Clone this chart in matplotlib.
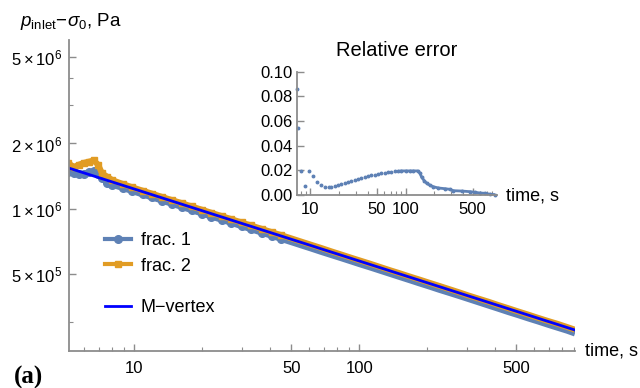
import numpy as np
import matplotlib.pyplot as plt
from matplotlib.lines import Line2D
from matplotlib.ticker import FixedLocator, FixedFormatter, NullFormatter

# fonts: Arial-like text, italic symbols in the axis label
plt.rcParams['font.family'] = ['Liberation Sans', 'DejaVu Sans']
plt.rcParams['mathtext.fontset'] = 'custom'
plt.rcParams['mathtext.rm'] = 'Liberation Sans'
plt.rcParams['mathtext.it'] = 'Liberation Sans:italic'
plt.rcParams['mathtext.bf'] = 'Liberation Sans:bold'

# inlet pressure minus sigma_0 (Pa) against time (s)
t_frac = [5.1, 5.4, 5.7, 6.0, 6.3, 6.6, 6.9, 7.2, 7.6, 8.0, 8.9, 9.8, 10.9, 12, 13.3,
          14.7, 16.3, 18, 20, 22, 24.5, 27, 30, 33, 37, 41, 45, 50, 55, 61, 68, 75,
          83, 92, 100, 112, 124, 137, 150, 168, 185, 205, 227, 250, 278, 307, 340,
          375, 415, 460, 510, 565, 625, 690, 760, 840, 910]
p_frac1 = [1.48e6, 1.46e6, 1.45e6, 1.45e6, 1.47e6, 1.49e6, 1.45e6, 1.38e6, 1.32e6,
           1.29e6, 1.246e6, 1.206e6, 1.164e6, 1.128e6, 1.090e6, 1.054e6, 1.019e6,
           9.85e5, 9.51e5, 9.21e5, 8.89e5, 8.61e5, 8.31e5, 8.05e5, 7.75e5, 7.49e5,
           7.26e5, 7.01e5, 6.79e5, 6.56e5, 6.32e5, 6.12e5, 5.92e5, 5.72e5, 5.56e5,
           5.36e5, 5.18e5, 5.01e5, 4.86e5, 4.68e5, 4.53e5, 4.38e5, 4.23e5, 4.10e5,
           3.96e5, 3.83e5, 3.70e5, 3.58e5, 3.46e5, 3.34e5, 3.23e5, 3.12e5, 3.02e5,
           2.92e5, 2.83e5, 2.74e5, 2.66e5]
p_frac2 = [1.62e6, 1.56e6, 1.60e6, 1.63e6, 1.65e6, 1.67e6, 1.60e6, 1.455e6, 1.404e6,
           1.355e6, 1.301e6, 1.256e6, 1.212e6, 1.174e6, 1.134e6, 1.097e6, 1.061e6,
           1.025e6, 9.90e5, 9.59e5, 9.25e5, 8.96e5, 8.65e5, 8.38e5, 8.07e5, 7.79e5,
           7.56e5, 7.30e5, 7.07e5, 6.83e5, 6.59e5, 6.37e5, 6.16e5, 5.95e5, 5.79e5,
           5.58e5, 5.39e5, 5.21e5, 5.06e5, 4.87e5, 4.72e5, 4.56e5, 4.41e5, 4.27e5,
           4.12e5, 3.98e5, 3.85e5, 3.73e5, 3.60e5, 3.48e5, 3.36e5, 3.25e5, 3.14e5,
           3.04e5, 2.95e5, 2.85e5, 2.77e5]
t_mv = [5.13, 910]
p_mv = [1.54e6, 2.76e5]

# relative error between the two fractures
t_err = [7.27, 7.44, 8.0, 8.8, 9.69, 10.67, 11.75, 12.94, 14.24, 15.68, 16.7, 18.38,
         19.62, 21.23, 23.05, 24.95, 27.0, 29.3, 31.7, 34.4, 37.3, 40.4, 43.7, 47.4,
         51.4, 55.6, 60.3, 65.3, 70.7, 76.7, 83.1, 90, 100, 110, 120, 133.5, 141,
         146.8, 156.3, 165.6, 179.4, 194.2, 219, 257.5, 290.4, 314, 384.6, 469.6,
         529.6, 597.5, 674, 760, 857]
err = [0.086, 0.0546, 0.0195, 0.0075, 0.0195, 0.0154, 0.0108, 0.0079, 0.0065, 0.0065,
       0.0065, 0.0075, 0.0081, 0.0089, 0.0097, 0.0105, 0.0114, 0.0122, 0.013, 0.0138,
       0.0146, 0.0154, 0.016, 0.0165, 0.017, 0.0176, 0.0181, 0.0184, 0.0189, 0.0192,
       0.0192, 0.0195, 0.0195, 0.0195, 0.0195, 0.0195, 0.0176, 0.0144, 0.0116, 0.0095,
       0.0079, 0.0067, 0.0057, 0.0051, 0.0046, 0.0035, 0.0032, 0.0027, 0.0022, 0.0016,
       0.0014, 0.0006, 0.0003]

c1 = '#5E81B5'
c2 = '#E19C24'
axis_grey = '#8c8c8c'

fig = plt.figure(figsize=(6.4, 3.88), dpi=100)
ax = fig.add_axes([0.1078, 0.0954, 0.7906, 0.8015])

# dense samples merge into a band later on, so markers only where they stand apart
early = list(range(27))
ax.plot(t_frac, p_frac1, color=c1, lw=4.3, marker='o', ms=5.5, markevery=early,
        solid_capstyle='butt')
ax.plot(t_frac, p_frac2, color=c2, lw=4.3, marker='s', ms=5, markevery=early,
        solid_capstyle='butt')
ax.plot(t_mv, p_mv, color='#0000ff', lw=2)

h1 = Line2D([], [], color=c1, lw=3, marker='o', ms=5.5, label='frac. 1')
h2 = Line2D([], [], color=c2, lw=3, marker='s', ms=5, label='frac. 2')
h3 = Line2D([], [], color='#0000ff', lw=2, label='M\u2212vertex')

ax.set_xscale('log')
ax.set_yscale('log')
ax.set_xlim(5.13, 910)
ax.set_ylim(2.21e5, 6.0e6)


def style_axes(a, fs):
    for s in ['top', 'right']:
        a.spines[s].set_visible(False)
    for s in ['left', 'bottom']:
        a.spines[s].set_color(axis_grey)
        a.spines[s].set_linewidth(1.3)
    a.tick_params(which='both', direction='in', color=axis_grey, labelsize=fs)
    a.tick_params(which='major', length=5, width=1)
    a.tick_params(which='minor', length=3, width=0.8)


style_axes(ax, 12)
ax.tick_params(axis='x', pad=7.5)
ax.tick_params(axis='y', pad=5)

ax.xaxis.set_major_locator(FixedLocator([10, 50, 100, 500]))
ax.xaxis.set_major_formatter(FixedFormatter(['10', '50', '100', '500']))
ax.xaxis.set_minor_locator(FixedLocator([6, 7, 8, 9, 20, 30, 40, 60, 70, 80, 90,
                                         200, 300, 400, 600, 700, 800, 900]))
ax.xaxis.set_minor_formatter(NullFormatter())
ax.yaxis.set_major_locator(FixedLocator([5e5, 1e6, 2e6, 5e6]))
ax.yaxis.set_major_formatter(FixedFormatter([r'$5\times10^{5}$', r'$1\times10^{6}$',
                                             r'$2\times10^{6}$', r'$5\times10^{6}$']))
ax.yaxis.set_minor_locator(FixedLocator([3e5, 3e6, 4e6]))
ax.yaxis.set_minor_formatter(NullFormatter())

# legends: the two fractures, then the analytical line a little lower
leg1 = ax.legend(handles=[h1, h2], loc='center left', bbox_to_anchor=(0.072, 0.3135),
                 frameon=False, fontsize=13, handlelength=1.4, handletextpad=0.55,
                 labelspacing=0.45, borderpad=0, borderaxespad=0, numpoints=1)
ax.add_artist(leg1)
ax.legend(handles=[h3], loc='center left', bbox_to_anchor=(0.072, 0.139),
          frameon=False, fontsize=13, handlelength=1.4, handletextpad=0.55,
          borderpad=0, borderaxespad=0)

fig.text(20 / 640, 1 - 22 / 388, r'$p_{\mathrm{inlet}}\!-\!\sigma_0$, Pa',
         fontsize=13.5, va='center', ha='left')
fig.text(585 / 640, 1 - 351 / 388, 'time, s', fontsize=13, va='center', ha='left')
fig.text(14 / 640, 1 - 377 / 388, '(a)', fontsize=18, fontweight='bold',
         family='Liberation Serif', va='center', ha='left')

# inset with the relative error
ins = fig.add_axes([296.7 / 640, 1 - 195 / 388, 200.3 / 640, 123.5 / 388])
ins.plot(t_err, err, ls='none', marker='o', ms=1.8, color=c1, clip_on=False)
ins.plot(t_err[30:], err[30:], color=c1, lw=2.0, solid_capstyle='butt')
ins.set_xscale('log')
ins.set_xlim(7.26, 900)
ins.set_ylim(0, 0.1)
style_axes(ins, 12)
ins.tick_params(axis='x', pad=5)
ins.tick_params(axis='y', pad=3)
ins.xaxis.set_major_locator(FixedLocator([10, 50, 100, 500]))
ins.xaxis.set_major_formatter(FixedFormatter(['10', '50', '100', '500']))
ins.xaxis.set_minor_locator(FixedLocator([8, 9, 20, 30, 40, 60, 70, 80, 90,
                                          200, 300, 400, 600, 700, 800]))
ins.xaxis.set_minor_formatter(NullFormatter())
ins.set_yticks([0, 0.02, 0.04, 0.06, 0.08, 0.10])
ins.set_yticklabels(['0.00', '0.02', '0.04', '0.06', '0.08', '0.10'])
ins.patch.set_alpha(0)
ins.set_title('Relative error', fontsize=14.5, pad=11)
fig.text(506 / 640, 1 - 196 / 388, 'time, s', fontsize=13, va='center', ha='left')

fig.savefig('out.png', dpi=100)
